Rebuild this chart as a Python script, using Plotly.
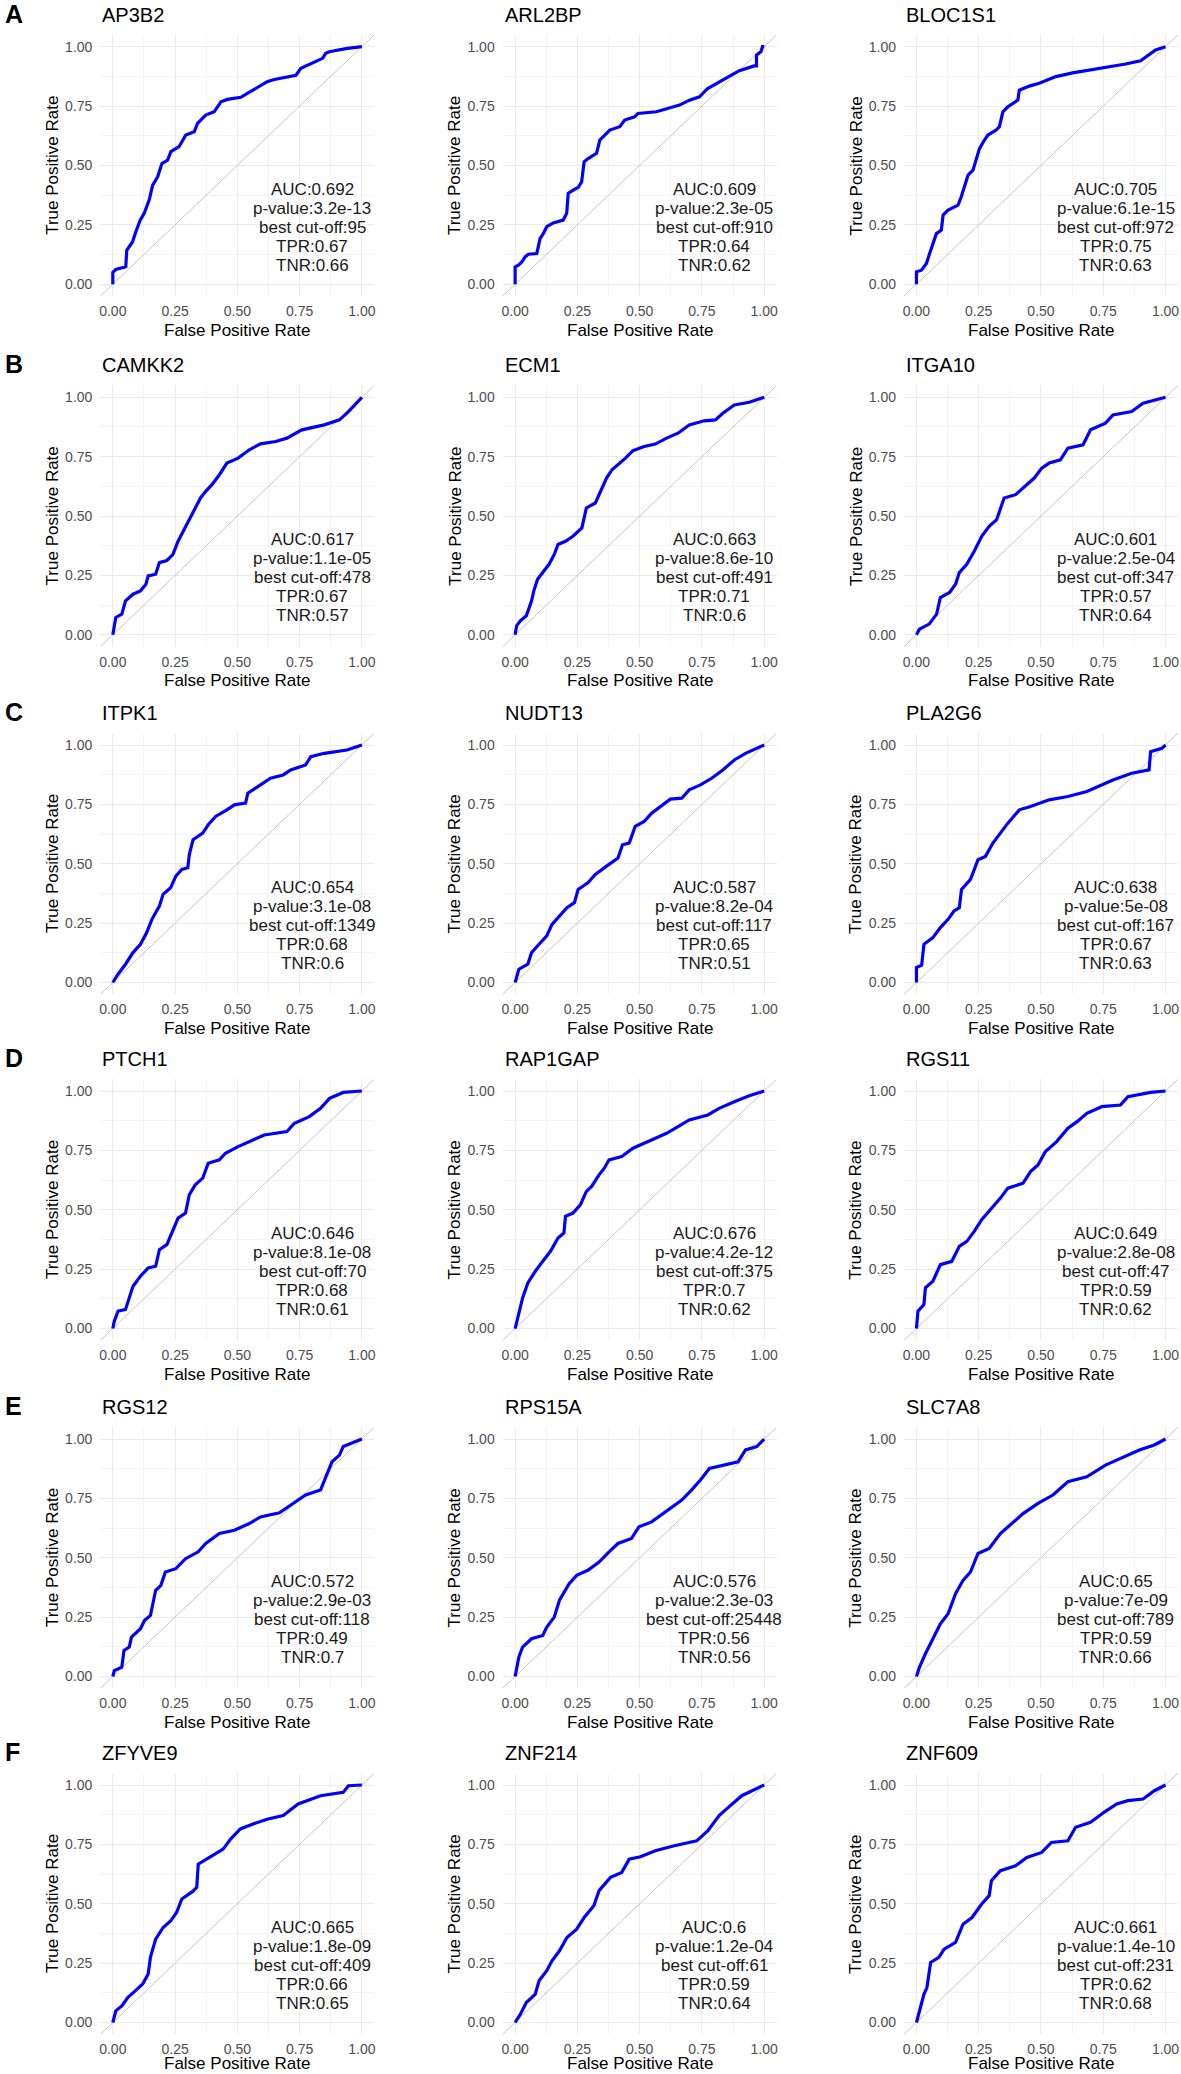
import plotly.graph_objects as go

# --- panel annotations ---
letters = ["A", "B", "C", "D", "E", "F"]
genes = ["AP3B2", "ARL2BP", "BLOC1S1",
         "CAMKK2", "ECM1", "ITGA10",
         "ITPK1", "NUDT13", "PLA2G6",
         "PTCH1", "RAP1GAP", "RGS11",
         "RGS12", "RPS15A", "SLC7A8",
         "ZFYVE9", "ZNF214", "ZNF609"]
auc = [0.692, 0.609, 0.705, 0.617, 0.663, 0.601, 0.654, 0.587, 0.638,
       0.646, 0.676, 0.649, 0.572, 0.576, 0.65, 0.665, 0.6, 0.661]
pval = ["3.2e-13", "2.3e-05", "6.1e-15", "1.1e-05", "8.6e-10", "2.5e-04",
        "3.1e-08", "8.2e-04", "5e-08", "8.1e-08", "4.2e-12", "2.8e-08",
        "2.9e-03", "2.3e-03", "7e-09", "1.8e-09", "1.2e-04", "1.4e-10"]
cutoff = [95, 910, 972, 478, 491, 347, 1349, 117, 167,
          70, 375, 47, 118, 25448, 789, 409, 61, 231]
tpr_best = [0.67, 0.64, 0.75, 0.67, 0.71, 0.57, 0.68, 0.65, 0.67,
            0.68, 0.7, 0.59, 0.49, 0.56, 0.59, 0.66, 0.59, 0.62]
tnr_best = [0.66, 0.62, 0.63, 0.57, 0.6, 0.64, 0.6, 0.51, 0.63,
            0.61, 0.62, 0.62, 0.7, 0.56, 0.66, 0.65, 0.64, 0.68]

# --- ROC curves ---
ap3b2_x = [0, 0, .012, .052, .056, .079, .092, .11, .126, .146, .16, .18, .197, .22, .233, .266, .293, .327, .34, .373, .407, .434, .46, .514, .54, .58, .62, .648, .688, .735, .755, .802, .842, .855, .869, .942, 1]
ap3b2_y = [0, .05, .062, .073, .143, .178, .22, .27, .298, .354, .417, .452, .508, .522, .558, .579, .628, .642, .677, .712, .726, .768, .778, .787, .803, .829, .853, .862, .871, .88, .909, .93, .951, .972, .979, .993, 1]

arl2bp_x = [0, 0, .013, .027, .04, .053, .087, .093, .1, .113, .127, .153, .193, .207, .213, .233, .253, .267, .277, .293, .327, .34, .36, .38, .42, .44, .48, .493, .567, .62, .66, .7, .74, .773, .82, .86, .9, .96, .969, .969, .987, .993, 1]
arl2bp_y = [0, .073, .08, .094, .115, .126, .129, .157, .192, .213, .242, .258, .27, .298, .382, .396, .407, .431, .515, .529, .551, .607, .628, .649, .663, .691, .705, .719, .726, .74, .754, .775, .789, .824, .853, .874, .899, .919, .919, .965, .979, 1, 1]

bloc1s1_x = [0, 0, .02, .04, .053, .067, .08, .1, .107, .127, .167, .18, .193, .207, .227, .24, .253, .273, .287, .32, .333, .347, .367, .387, .407, .413, .453, .493, .533, .56, .627, .693, .787, .84, .9, .933, .96, 1]
bloc1s1_y = [0, .052, .059, .087, .129, .171, .213, .228, .291, .312, .333, .368, .417, .459, .48, .522, .571, .607, .628, .649, .663, .726, .747, .761, .775, .817, .834, .846, .862, .874, .89, .902, .916, .927, .941, .965, .986, 1]

camkk2_x = [0, .012, .036, .051, .081, .111, .133, .142, .172, .187, .217, .241, .262, .292, .322, .352, .373, .398, .428, .458, .503, .548, .593, .654, .699, .759, .849, .91, .946, .97, 1]
camkk2_y = [0, .073, .087, .143, .171, .185, .213, .248, .255, .304, .313, .338, .394, .457, .52, .576, .604, .632, .674, .723, .744, .779, .804, .814, .828, .863, .884, .905, .94, .968, 1]

ecm1_x = [0, .006, .021, .045, .066, .075, .09, .111, .136, .157, .172, .202, .232, .268, .286, .322, .343, .367, .389, .413, .443, .473, .518, .563, .608, .654, .699, .759, .804, .834, .88, .94, 1]
ecm1_y = [0, .038, .059, .08, .143, .185, .234, .262, .297, .338, .38, .394, .415, .45, .534, .555, .604, .66, .695, .716, .744, .775, .793, .803, .828, .849, .884, .901, .905, .933, .968, .979, 1]

itga10_x = [0, .012, .051, .081, .096, .133, .157, .172, .202, .232, .262, .292, .322, .352, .398, .428, .473, .503, .533, .578, .608, .669, .699, .759, .789, .864, .91, 1]
itga10_y = [0, .024, .045, .087, .157, .178, .213, .262, .297, .352, .415, .457, .485, .576, .59, .618, .66, .702, .723, .737, .786, .8, .863, .891, .926, .94, .975, 1]

itpk1_x = [0, .021, .051, .081, .111, .136, .157, .187, .202, .232, .253, .277, .301, .307, .322, .361, .383, .413, .458, .488, .533, .542, .593, .633, .684, .714, .774, .795, .849, .94, 1]
itpk1_y = [0, .035, .077, .126, .161, .21, .266, .322, .371, .399, .448, .476, .483, .538, .601, .629, .664, .699, .727, .748, .755, .797, .832, .86, .874, .895, .916, .951, .965, .979, 1]

nudt13_x = [0, .015, .051, .066, .096, .127, .148, .178, .208, .238, .253, .292, .322, .367, .413, .431, .458, .482, .518, .548, .593, .623, .669, .699, .744, .789, .834, .88, .925, 1]
nudt13_y = [0, .056, .077, .126, .161, .196, .245, .28, .315, .336, .392, .42, .455, .49, .524, .58, .587, .657, .678, .713, .748, .772, .776, .811, .832, .86, .895, .937, .965, 1]

pla2g6_x = [0, 0, .021, .03, .066, .096, .127, .151, .172, .181, .217, .247, .277, .307, .337, .367, .413, .458, .533, .608, .684, .729, .789, .864, .934, .94, .985, 1]
pla2g6_y = [0, .063, .073, .161, .189, .231, .266, .301, .315, .392, .434, .517, .531, .587, .629, .671, .727, .741, .769, .783, .804, .825, .853, .881, .895, .972, .986, 1]

ptch1_x = [0, .006, .021, .051, .066, .081, .111, .142, .172, .187, .217, .241, .262, .292, .307, .331, .361, .383, .428, .452, .503, .563, .608, .699, .729, .789, .834, .87, .925, 1]
ptch1_y = [0, .031, .073, .08, .129, .178, .22, .255, .262, .332, .353, .409, .465, .486, .563, .605, .633, .696, .71, .738, .766, .794, .815, .829, .864, .892, .927, .969, .994, 1]

rap1gap_x = [0, .015, .03, .051, .081, .111, .142, .172, .196, .202, .232, .262, .286, .307, .337, .358, .377, .428, .473, .518, .578, .608, .654, .699, .774, .819, .88, .94, 1]
rap1gap_y = [0, .059, .129, .192, .241, .283, .325, .381, .402, .472, .486, .521, .577, .598, .647, .675, .71, .724, .759, .78, .808, .822, .85, .878, .899, .927, .955, .98, 1]

rgs11_x = [0, .006, .03, .036, .066, .096, .142, .172, .202, .232, .262, .292, .337, .367, .428, .458, .488, .518, .563, .608, .645, .684, .744, .819, .849, .94, 1]
rgs11_y = [0, .073, .101, .171, .199, .269, .283, .346, .367, .409, .458, .493, .549, .591, .612, .661, .689, .745, .787, .843, .871, .906, .934, .941, .976, .994, 1]

rgs12_x = [0, .006, .036, .045, .066, .075, .111, .127, .151, .172, .193, .211, .253, .292, .343, .373, .428, .488, .548, .593, .669, .714, .774, .834, .855, .88, .91, .925, 1]
rgs12_y = [0, .025, .039, .11, .124, .166, .201, .236, .257, .363, .384, .44, .454, .496, .525, .56, .602, .616, .644, .672, .689, .722, .764, .785, .841, .904, .932, .968, 1]

rps15a_x = [0, .015, .03, .066, .111, .127, .157, .178, .217, .247, .292, .337, .377, .413, .467, .497, .548, .593, .639, .669, .708, .744, .78, .834, .895, .925, .97, 1]
rps15a_y = [0, .082, .124, .159, .173, .208, .25, .321, .391, .426, .447, .482, .525, .56, .581, .63, .651, .686, .722, .743, .785, .827, .876, .89, .904, .954, .968, 1]

slc7a8_x = [0, .012, .036, .066, .096, .127, .157, .187, .217, .247, .292, .337, .383, .428, .488, .548, .608, .684, .759, .819, .895, .955, 1]
slc7a8_y = [0, .039, .096, .159, .222, .264, .349, .405, .44, .518, .539, .602, .644, .686, .729, .764, .82, .841, .89, .918, .954, .975, 1]

zfyve9_x = [0, .012, .036, .06, .09, .12, .142, .151, .172, .202, .232, .256, .277, .322, .337, .343, .398, .443, .473, .512, .563, .623, .684, .744, .834, .925, .946, 1]
zfyve9_y = [0, .049, .07, .105, .133, .162, .204, .274, .351, .4, .428, .463, .52, .553, .569, .667, .702, .73, .772, .815, .836, .857, .871, .92, .955, .969, .997, 1]

znf214_x = [0, .021, .045, .081, .096, .127, .148, .178, .208, .247, .277, .316, .337, .383, .428, .458, .503, .563, .639, .729, .774, .819, .864, .91, 1]
znf214_y = [0, .035, .084, .119, .176, .218, .26, .302, .358, .393, .442, .492, .555, .611, .632, .688, .698, .723, .744, .765, .808, .871, .913, .955, 1]

znf609_x = [0, .012, .03, .042, .057, .09, .111, .157, .187, .223, .262, .292, .301, .337, .398, .443, .503, .542, .608, .639, .699, .753, .804, .849, .91, .955, 1]
znf609_y = [0, .049, .119, .147, .253, .274, .309, .337, .414, .442, .499, .534, .597, .639, .66, .695, .716, .758, .765, .822, .843, .885, .92, .934, .941, .976, 1]

curves_x = [ap3b2_x, arl2bp_x, bloc1s1_x, camkk2_x, ecm1_x, itga10_x,
            itpk1_x, nudt13_x, pla2g6_x, ptch1_x, rap1gap_x, rgs11_x,
            rgs12_x, rps15a_x, slc7a8_x, zfyve9_x, znf214_x, znf609_x]
curves_y = [ap3b2_y, arl2bp_y, bloc1s1_y, camkk2_y, ecm1_y, itga10_y,
            itpk1_y, nudt13_y, pla2g6_y, ptch1_y, rap1gap_y, rgs11_y,
            rgs12_y, rps15a_y, slc7a8_y, zfyve9_y, znf214_y, znf609_y]

diag = [-0.05, 1.05]
ticks = [0, 0.25, 0.5, 0.75, 1]

# --- layout geometry (pixels) ---
W, H = 1181, 2074
col_x0 = [112, 515, 917]          # pixel of FPR = 0
unit_x = 249.5
row_y1 = [46.7, 397.3, 745, 1091, 1439, 1785]   # pixel of TPR = 1
unit_y = 237.5
FONT = "Liberation Sans, Arial, sans-serif"

fig = go.Figure()
annotations = []
layout = {}

for i, gene in enumerate(genes):
    r, c = divmod(i, 3)
    n = i + 1
    xa = "x" if n == 1 else f"x{n}"
    ya = "y" if n == 1 else f"y{n}"

    left = col_x0[c] - 0.05 * unit_x
    right = col_x0[c] + 1.05 * unit_x
    top = row_y1[r] - 0.05 * unit_y
    bottom = row_y1[r] + 1.05 * unit_y

    axis_common = dict(
        range=[-0.05, 1.05], tickvals=ticks, tickformat=".2f",
        showgrid=True, gridcolor="#ebebeb", gridwidth=1.1,
        minor=dict(dtick=0.125, tick0=0, showgrid=True, gridcolor="#f4f4f4", gridwidth=0.8),
        zeroline=False, showline=False, ticks="",
        tickfont=dict(family=FONT, size=14, color="#4d4d4d"),
        fixedrange=True,
    )
    layout["xaxis" if n == 1 else f"xaxis{n}"] = dict(
        axis_common, domain=[left / W, min(right / W, 1)], anchor=ya, ticklabelstandoff=5)
    layout["yaxis" if n == 1 else f"yaxis{n}"] = dict(
        axis_common, domain=[1 - bottom / H, 1 - top / H], anchor=xa, ticklabelstandoff=7)

    # chance line
    fig.add_trace(go.Scatter(x=diag, y=diag, xaxis=xa, yaxis=ya, mode="lines",
                             line=dict(color="#c6c6c6", width=1), hoverinfo="skip",
                             showlegend=False))
    # ROC curve
    fig.add_trace(go.Scatter(x=curves_x[i], y=curves_y[i], xaxis=xa, yaxis=ya,
                             mode="lines", line=dict(color="#0000ff", width=3.2),
                             name=gene, showlegend=False))

    # panel title
    annotations.append(dict(text=gene, xref=f"{xa} domain", yref=f"{ya} domain",
                            x=0, y=1, xanchor="left", yanchor="middle", yshift=20,
                            showarrow=False, font=dict(family=FONT, size=20, color="black")))
    # axis titles (bottom row nudged up so it stays inside the page)
    annotations.append(dict(text="False Positive Rate", xref=f"{xa} domain", yref=f"{ya} domain",
                            x=0.5, y=0, xanchor="center", yanchor="middle",
                            yshift=-29 if r == 5 else -34,
                            showarrow=False, font=dict(family=FONT, size=17, color="black")))
    annotations.append(dict(text="True Positive Rate", xref=f"{xa} domain", yref=f"{ya} domain",
                            x=0, y=0.5, xanchor="center", yanchor="middle", xshift=-48,
                            textangle=-90, showarrow=False,
                            font=dict(family=FONT, size=17, color="black")))
    # stats text
    lines = [f"AUC:{auc[i]}", f"p-value:{pval[i]}", f"best cut-off:{cutoff[i]}",
             f"TPR:{tpr_best[i]}", f"TNR:{tnr_best[i]}"]
    for k, txt in enumerate(lines):
        annotations.append(dict(text=txt, xref=xa, yref=ya, x=0.8, y=0.40 - 0.08 * k,
                                xanchor="center", yanchor="middle", showarrow=False,
                                font=dict(family=FONT, size=17, color="#1a1a1a")))

    # row letter
    if c == 0:
        annotations.append(dict(text=f"<b>{letters[r]}</b>", xref="paper", yref=f"{ya} domain",
                                x=2 / W, y=1, xanchor="left", yanchor="middle", yshift=21,
                                showarrow=False, font=dict(family=FONT, size=25, color="black")))

fig.update_layout(
    width=W, height=H,
    margin=dict(l=0, r=0, t=0, b=0),
    paper_bgcolor="white", plot_bgcolor="white",
    annotations=annotations,
    **layout,
)

# page fills the window exactly: no body margin, no scrollbars, no modebar
fig.write_html("out.html",
               config={"displayModeBar": False},
               post_script="document.body.style.margin='0';"
                           "document.documentElement.style.overflow='hidden';")
